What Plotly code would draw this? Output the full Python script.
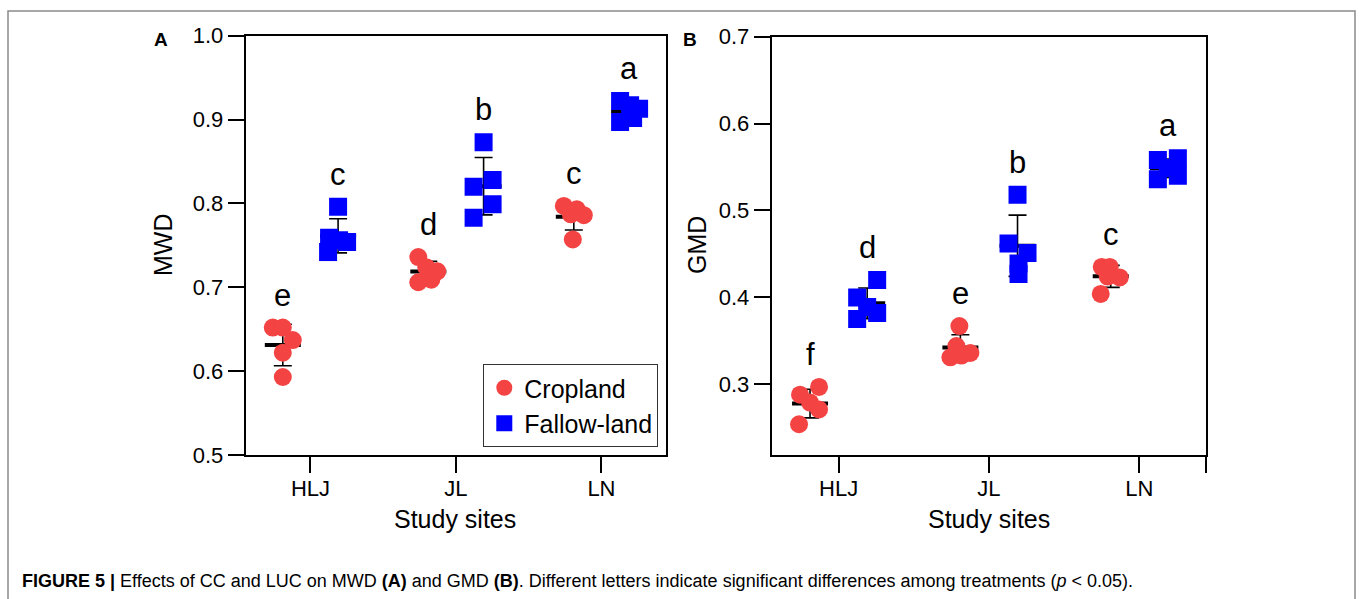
import numpy as np
import plotly.graph_objects as go

# ---------------- data ----------------
sites = ["HLJ", "JL", "LN"]

mwd_cropland = [[0.652, 0.652, 0.637, 0.622, 0.593],
                [0.736, 0.724, 0.719, 0.706, 0.709],
                [0.797, 0.793, 0.786, 0.787, 0.757]]
mwd_fallow = [[0.796, 0.759, 0.754, 0.742, 0.756],
              [0.873, 0.828, 0.820, 0.799, 0.783],
              [0.922, 0.917, 0.913, 0.902, 0.897]]
gmd_cropland = [[0.288, 0.297, 0.279, 0.271, 0.254],
                [0.367, 0.344, 0.331, 0.336, 0.333],
                [0.435, 0.435, 0.423, 0.404, 0.424]]
gmd_fallow = [[0.420, 0.400, 0.375, 0.382, 0.389],
              [0.518, 0.462, 0.451, 0.439, 0.427],
              [0.558, 0.560, 0.536, 0.540, 0.549]]

mwd_letters_cropland = ["e", "d", "c"]
mwd_letters_fallow = ["c", "b", "a"]
gmd_letters_cropland = ["f", "e", "c"]
gmd_letters_fallow = ["d", "b", "a"]

mwd_ticks = [0.5, 0.6, 0.7, 0.8, 0.9, 1.0]
gmd_ticks = [0.3, 0.4, 0.5, 0.6, 0.7]

# horizontal jitter of the dots (pixels)
jit_mwd_crop = [[-10, 0, 10, 0, 0], [-10, -2, 9, -10, 3], [-10, 3, 10, -3, -1]]
jit_mwd_fal = [[0, -9, 9, -10, 1], [0, 9, -10, 9, -10], [-9, 1, 10, 4, -9]]
jit_gmd_crop = [[-10, 9, 0, 9, -11], [-1, -4, -10, 10, 1], [-9, -1, 9, -10, -3]]
jit_gmd_fal = [[10, -10, -10, 10, 0], [0, -9, 10, 1, 1], [-10, 10, -10, 10, 0]]

# ---------------- style ----------------
RED = "#f44343"
BLUE = "#0000ff"
FONT = "Liberation Sans, Arial, sans-serif"
W, H = 1360, 599
XR = [-0.445, 2.445]
GROUP_OFF = 0.19
MEAN_BAR_PX = 36

def px(x):
    return x / W

def py(y):
    return 1 - y / H

fig = go.Figure()

panels = [
    dict(xa="x", ya="y", crop=mwd_cropland, fal=mwd_fallow, jc=jit_mwd_crop, jf=jit_mwd_fal,
         lc=mwd_letters_cropland, lf=mwd_letters_fallow, pxcat=145.5, legend=True),
    dict(xa="x2", ya="y2", crop=gmd_cropland, fal=gmd_fallow, jc=jit_gmd_crop, jf=jit_gmd_fal,
         lc=gmd_letters_cropland, lf=gmd_letters_fallow, pxcat=150.35, legend=False),
]

annotations = []
for p in panels:
    for name, data, jit, letters, off, color, sym in [
        ("Cropland", p["crop"], p["jc"], p["lc"], -GROUP_OFF, RED, "circle"),
        ("Fallow-land", p["fal"], p["jf"], p["lf"], GROUP_OFF, BLUE, "square"),
    ]:
        centers = [i + off for i in range(len(sites))]
        means = [float(np.mean(v)) for v in data]
        sds = [float(np.std(v, ddof=1)) for v in data]
        # mean line + SD error bar (line-ew symbol spans 1.4 * size)
        fig.add_trace(go.Scatter(
            x=centers, y=means, mode="markers", xaxis=p["xa"], yaxis=p["ya"],
            marker=dict(symbol="line-ew", size=MEAN_BAR_PX / 1.4, color="black",
                        line=dict(color="black", width=4)),
            error_y=dict(type="data", array=sds, visible=True, color="black",
                         thickness=1.6, width=9),
            showlegend=False, hoverinfo="skip"))
        xs, ys = [], []
        for i, vals in enumerate(data):
            for v, j in zip(vals, jit[i]):
                xs.append(centers[i] + j / p["pxcat"])
                ys.append(v)
        fig.add_trace(go.Scatter(
            x=xs, y=ys, mode="markers", xaxis=p["xa"], yaxis=p["ya"], name=name,
            marker=dict(symbol=sym, size=18, color=color, line=dict(width=0)),
            showlegend=p["legend"]))
        for i, vals in enumerate(data):
            annotations.append(dict(
                x=centers[i], y=max(vals), xref=p["xa"], yref=p["ya"], text=letters[i],
                showarrow=False, xanchor="center", yanchor="bottom", yshift=13,
                font=dict(family=FONT, size=31, color="black")))

axis_common = dict(showline=True, linecolor="black", linewidth=2, mirror=True,
                   ticks="outside", ticklen=16, tickwidth=2, tickcolor="black",
                   showgrid=False, zeroline=False, automargin=False,
                   tickfont=dict(family=FONT, size=22, color="black"))

fig.update_layout(
    width=W, height=H, autosize=False,
    margin=dict(l=0, r=0, t=0, b=0, pad=0, autoexpand=False),
    paper_bgcolor="white", plot_bgcolor="white",
    xaxis=dict(domain=[px(245.7), px(666.2)], range=XR, anchor="y",
               tickvals=[0, 1, 2], ticktext=sites, ticklabelstandoff=-3, **axis_common),
    yaxis=dict(domain=[py(455), py(35.7)], range=[0.5, 1.0], anchor="x",
               tickvals=mwd_ticks, tickformat=".1f", **axis_common),
    xaxis2=dict(domain=[px(771.7), px(1206.2)], range=XR, anchor="y2",
                tickvals=[0, 1, 2, XR[1]], ticktext=sites + [""], ticklabelstandoff=-3,
                **axis_common),
    yaxis2=dict(domain=[py(455), py(36.7)], range=[0.2186, 0.7], anchor="x2",
                tickvals=gmd_ticks, tickformat=".1f", **axis_common),
    legend=dict(x=px(658.3), y=py(447), xanchor="right", yanchor="bottom",
                bgcolor="white", bordercolor="#333333", borderwidth=1,
                font=dict(family=FONT, size=25, color="black"),
                itemwidth=30, tracegroupgap=0),
    showlegend=True,
)

text_font = dict(family=FONT, color="black")
annotations += [
    dict(x=px(160.5), y=py(39.5), xref="paper", yref="paper", xanchor="center", yanchor="middle",
         text="<b>A</b>", showarrow=False, font=dict(size=19, **text_font)),
    dict(x=px(690), y=py(39.5), xref="paper", yref="paper", xanchor="center", yanchor="middle",
         text="<b>B</b>", showarrow=False, font=dict(size=19, **text_font)),
    dict(x=px(163), y=py(245), xref="paper", yref="paper", xanchor="center", yanchor="middle",
         text="MWD", textangle=-90, showarrow=False, font=dict(size=25, **text_font)),
    dict(x=px(697), y=py(245), xref="paper", yref="paper", xanchor="center", yanchor="middle",
         text="GMD", textangle=-90, showarrow=False, font=dict(size=25, **text_font)),
    dict(x=px(455), y=py(519), xref="paper", yref="paper", xanchor="center", yanchor="middle",
         text="Study sites", showarrow=False, font=dict(size=25, **text_font)),
    dict(x=px(989), y=py(519), xref="paper", yref="paper", xanchor="center", yanchor="middle",
         text="Study sites", showarrow=False, font=dict(size=25, **text_font)),
    dict(x=px(20), y=py(581), xref="paper", yref="paper", xanchor="left", yanchor="middle",
         text="<b>FIGURE 5 |</b> Effects of CC and LUC on MWD <b>(A)</b> and GMD <b>(B)</b>. "
              "Different letters indicate significant differences among treatments "
              "(<i>p</i> &lt; 0.05).",
         showarrow=False, font=dict(size=18, **text_font)),
]
fig.update_layout(annotations=annotations)

fig.add_shape(type="rect", xref="paper", yref="paper",
              x0=px(8), x1=px(1355), y0=py(610), y1=py(11),
              line=dict(color="#8a8a8a", width=1.5), fillcolor="rgba(0,0,0,0)", layer="below")

fig.write_html("out.html")
